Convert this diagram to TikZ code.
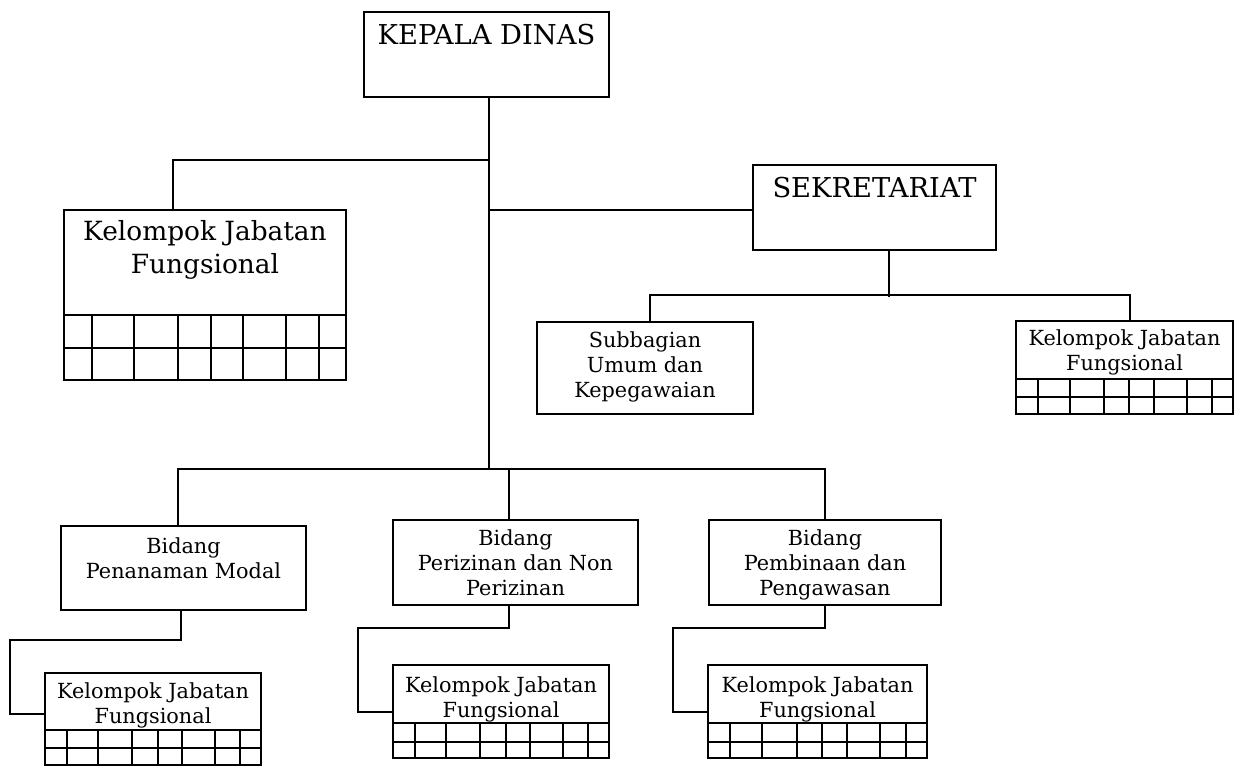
\documentclass[tikz,border=0pt]{standalone}
\usepackage{fontspec}
\setmainfont{DejaVu Serif}
\usetikzlibrary{calc,fit}

\tikzset{
  box/.style={draw, line width=1.4pt, inner sep=0pt},
  conn/.style={line width=1.4pt},
  headtxt/.style={anchor=north, inner sep=0pt, align=center, font=\fontsize{20.5}{24}\selectfont},
  midtxt/.style={anchor=north, inner sep=0pt, align=center, font=\fontsize{19.8}{24.8}\selectfont},
  smalltxt/.style={anchor=north, inner sep=0pt, align=center, font=\fontsize{15.6}{18.9}\selectfont}
}

% grid under a Kelompok Jabatan Fungsional box: x left, x right, y top, y middle, y bottom
\newcommand{\kjfgrid}[5]{%
  \draw[conn] (#1,#3) -- (#2,#3) (#1,#4) -- (#2,#4);
  \foreach \f in {0.1,0.247,0.405,0.521,0.636,0.786,0.904}
    \draw[conn] ({round(#1+\f*(#2-#1))},#3) -- ({round(#1+\f*(#2-#1))},#5);
}

\begin{document}
\begin{tikzpicture}[x=0.75pt,y=-0.75pt]
  \useasboundingbox (0,0) rectangle (1240,766);

  % boxes
  \node[box, fit={(364,12) (609,97)}] (kadis) {};
  \node[box, fit={(753,165) (996,250)}] (sek) {};
  \node[box, fit={(64,210) (346,380)}] (kjfL) {};
  \node[box, fit={(537,322) (753,414)}] (sub) {};
  \node[box, fit={(1016,321) (1233,414)}] (kjfR) {};
  \node[box, fit={(61,526) (306,610)}] (pen) {};
  \node[box, fit={(393,520) (638,605)}] (per) {};
  \node[box, fit={(709,520) (941,605)}] (pem) {};
  \node[box, fit={(45,673) (261,765)}] (kjfA) {};
  \node[box, fit={(393,665) (609,758)}] (kjfB) {};
  \node[box, fit={(708,665) (927,758)}] (kjfC) {};

  % texts
  \node[headtxt] (kadisT) at (486.5,24) {KEPALA DINAS};
  \node[headtxt] (sekT) at (874.5,177) {SEKRETARIAT};
  \node[midtxt] (kjfLT) at (205,220) {Kelompok Jabatan\\Fungsional};
  \node[smalltxt] (subT) at (645,331) {Subbagian\\Umum dan\\Kepegawaian};
  \node[smalltxt] (kjfRT) at (1124.5,329) {Kelompok Jabatan\\Fungsional};
  \node[smalltxt] (penT) at (183.5,537) {Bidang\\Penanaman Modal};
  \node[smalltxt] (perT) at (515.5,529) {Bidang\\Perizinan dan Non\\Perizinan};
  \node[smalltxt] (pemT) at (825,529) {Bidang\\Pembinaan dan\\Pengawasan};
  \node[smalltxt] (kjfAT) at (153,682) {Kelompok Jabatan\\Fungsional};
  \node[smalltxt] (kjfBT) at (501,676) {Kelompok Jabatan\\Fungsional};
  \node[smalltxt] (kjfCT) at (817.5,676) {Kelompok Jabatan\\Fungsional};

  % grids
  \kjfgrid{64}{346}{315}{348}{380}
  \kjfgrid{1016}{1233}{379}{397}{414}
  \kjfgrid{45}{261}{730}{748}{765}
  \kjfgrid{393}{609}{723}{742}{758}
  \kjfgrid{708}{927}{723}{742}{758}

  % connectors
  \coordinate (trunkEnd) at (489,470);
  \draw[conn] (trunkEnd |- kadis.south) -- (trunkEnd);
  \draw[conn] (trunkEnd |- 0,160) -| (kjfL.north west -| 173,0);
  \draw[conn] (trunkEnd |- 0,210) -- (sek.west |- 0,210);
  \draw[conn] (sek.south -| 889,0) -- ++(0,46);
  \draw[conn] (sub.north -| 650,0) -- ++(0,-26) -| (kjfR.north -| 1130,0);
  \draw[conn] (pen.north -| 178,0) -- ++(0,-56) -| (pem.north);
  \draw[conn] (per.north -| 509,0) -- ++(0,-50);

  \coordinate (elbowA) at (10,640);
  \coordinate (elbowB) at (358,628);
  \coordinate (elbowC) at (673,628);
  \draw[conn] (pen.south -| 181,0) |- (elbowA) |- (kjfA.west |- 0,714);
  \draw[conn] (per.south -| 509,0) |- (elbowB) |- (kjfB.west |- 0,712);
  \draw[conn] (pem.south) |- (elbowC) |- (kjfC.west |- 0,712);
\end{tikzpicture}
\end{document}
